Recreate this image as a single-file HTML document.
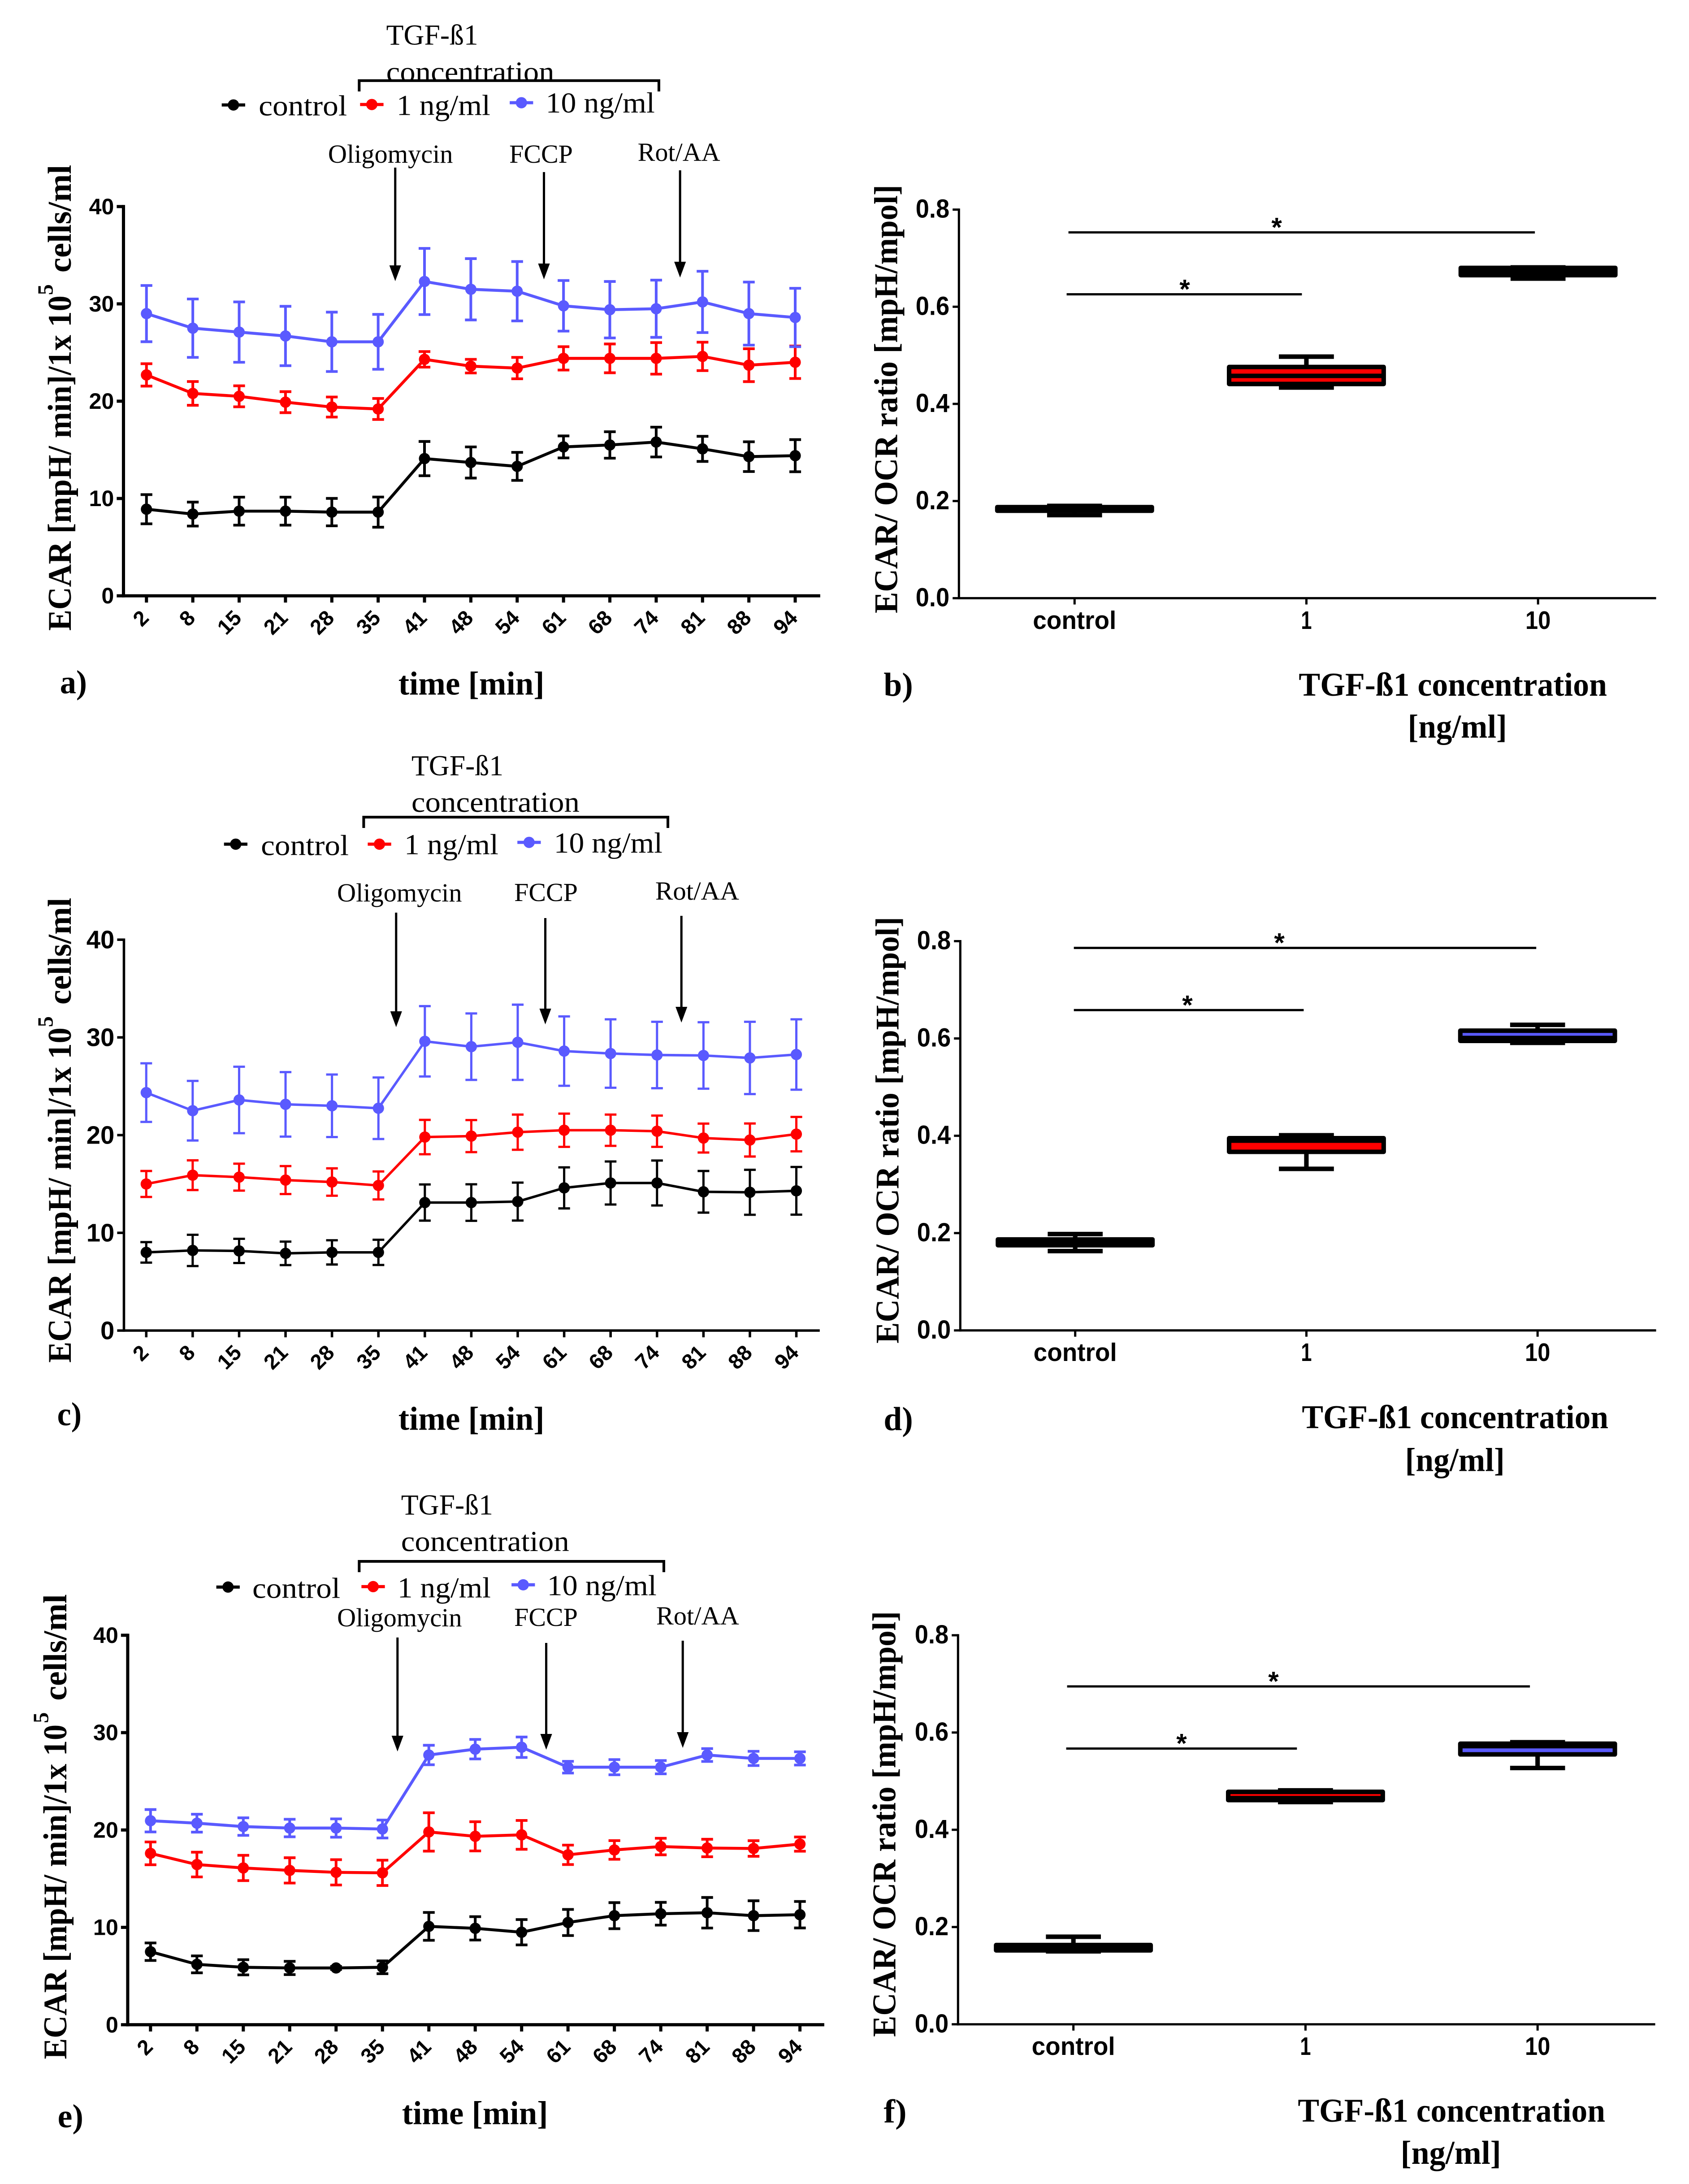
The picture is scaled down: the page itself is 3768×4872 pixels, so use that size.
<!DOCTYPE html>
<html lang="en">
<head>
<meta charset="utf-8">
<title>ECAR and ECAR/OCR ratio panels</title>
<style>
html,body{margin:0;padding:0;background:#fff;}
svg{display:block;}
</style>
</head>
<body>
<svg id="figure" xmlns="http://www.w3.org/2000/svg" width="3768" height="4872" viewBox="0 0 3768 4872"></svg>
<script>
// ---------- shared axis data ----------
var timeLabels = ['2','8','15','21','28','35','41','48','54','61','68','74','81','88','94'];
var ecarTicks = [0,10,20,30,40];
var ratioTicks = ['0.0','0.2','0.4','0.6','0.8'];
var boxCategories = ['control','1','10'];

// ---------- panel a ----------
var aControl = [8.9,8.4,8.7,8.7,8.6,8.6,14.1,13.7,13.3,15.3,15.5,15.8,15.1,14.3,14.4];
var aControlErr = [1.5,1.23,1.44,1.44,1.41,1.55,1.76,1.6,1.44,1.13,1.36,1.53,1.29,1.53,1.65];
var aLow = [22.7,20.8,20.5,19.9,19.4,19.2,24.3,23.6,23.4,24.4,24.4,24.4,24.6,23.7,24.0];
var aLowErr = [1.15,1.22,1.08,1.08,1.03,1.08,0.8,0.7,1.1,1.2,1.48,1.62,1.46,1.69,1.67];
var aHigh = [29,27.5,27.1,26.7,26.1,26.1,32.3,31.5,31.3,29.8,29.4,29.5,30.2,29,28.6];
var aHighErr = [2.89,3.0,3.1,3.05,3.05,2.82,3.4,3.15,3.05,2.6,2.9,2.94,3.15,3.24,3.0];

// ---------- panel c ----------
var cControl = [8.0,8.2,8.15,7.9,8.0,8.0,13.1,13.1,13.2,14.6,15.1,15.1,14.2,14.15,14.3];
var cControlErr = [1.05,1.6,1.24,1.2,1.24,1.29,1.85,1.87,1.94,2.1,2.2,2.3,2.13,2.3,2.44];
var cLow = [15.0,15.9,15.7,15.4,15.2,14.85,19.8,19.9,20.3,20.5,20.5,20.4,19.7,19.5,20.1];
var cLowErr = [1.33,1.52,1.38,1.43,1.4,1.43,1.76,1.64,1.8,1.7,1.6,1.6,1.48,1.69,1.76];
var cHigh = [24.35,22.5,23.6,23.15,23,22.75,29.6,29.05,29.5,28.6,28.35,28.2,28.15,27.9,28.25];
var cHighErr = [3.0,3.05,3.4,3.3,3.2,3.15,3.6,3.4,3.85,3.55,3.5,3.4,3.4,3.7,3.6];

// ---------- panel e ----------
var eControl = [7.5,6.2,5.9,5.83,5.83,5.9,10.1,9.9,9.5,10.5,11.2,11.4,11.5,11.2,11.3];
var eControlErr = [0.9,0.87,0.78,0.68,0.15,0.66,1.43,1.2,1.3,1.34,1.34,1.17,1.57,1.53,1.36];
var eLow = [17.6,16.45,16.1,15.85,15.65,15.6,19.8,19.35,19.5,17.45,17.95,18.3,18.15,18.1,18.55];
var eLowErr = [1.17,1.27,1.3,1.3,1.3,1.3,1.97,1.5,1.48,1.0,0.96,0.85,0.9,0.8,0.73];
var eHigh = [20.95,20.7,20.35,20.2,20.2,20.1,27.7,28.3,28.5,26.45,26.45,26.45,27.7,27.35,27.35];
var eHighErr = [1.15,0.92,0.9,0.9,0.94,0.92,1.0,1.0,1.05,0.6,0.78,0.68,0.66,0.73,0.68];

// ---------- box panels: [min, q1, median, q3, max] ----------
var bControlBox = [0.171,0.18,0.183,0.1875,0.19];
var bLowBox = [0.4337,0.441,0.4577,0.476,0.4973];
var bHighBox = [0.658,0.665,0.672,0.68,0.681];
var dControlBox = [0.163,0.175,0.18,0.187,0.198];
var dLowBox = [0.332,0.367,0.39,0.395,0.401];
var dHighBox = [0.591,0.595,0.601,0.616,0.628];
var fControlBox = [0.15,0.152,0.157,0.163,0.18];
var fLowBox = [0.457,0.461,0.465,0.478,0.481];
var fHighBox = [0.527,0.555,0.572,0.577,0.58];

var BLACK = '#000000', RED = '#ff0000', BLUE = '#5a5aff';
var SERIF = '"Liberation Serif", serif', SANS = '"Liberation Sans", sans-serif';
var NS = 'http://www.w3.org/2000/svg';
var root = document.getElementById('figure');

function mk(tag, attrs, name, parent) {
  var el = document.createElementNS(NS, tag);
  for (var k in attrs) { el.setAttribute(k, attrs[k]); }
  
  
  (parent || root).appendChild(el);
  return el;
}
function line(x1, y1, x2, y2, color, w, name, parent) {
  return mk('line', {x1:x1, y1:y1, x2:x2, y2:y2, stroke:color, 'stroke-width':w}, name, parent);
}
function txt(x, y, s, o, name, parent) {
  var a = {x:x, y:y, 'font-family':o.family || SERIF, 'font-size':o.size, fill:'#000'};
  if (o.bold) { a['font-weight'] = 'bold'; }
  if (o.anchor) { a['text-anchor'] = o.anchor; }
  if (o.len) { a.textLength = o.len; a.lengthAdjust = 'spacingAndGlyphs'; }
  if (o.rotate !== undefined) { a.transform = 'rotate(' + o.rotate + ' ' + x + ' ' + y + ')'; }
  var el = mk('text', a, name, parent);
  el.textContent = s;
  return el;
}
function panelTransform(ox, oy) {
  return 'translate(' + ox + ' ' + oy + ') scale(1.0054 1.005) translate(' + (-ox) + ' ' + (-oy) + ')';
}

function drawSeries(g, xs, yf, vals, errs, color, lw, label) {
  var i, pts = [];
  for (i = 0; i < vals.length; i++) {
    var top = yf(vals[i] + errs[i]), bot = yf(vals[i] - errs[i]);
    line(xs(i), top, xs(i), bot, color, lw, label + '-error-bar', g);
    line(xs(i) - 13, top, xs(i) + 13, top, color, lw, label + '-error-cap-upper', g);
    line(xs(i) - 13, bot, xs(i) + 13, bot, color, lw, label + '-error-cap-lower', g);
    pts.push(xs(i) + ',' + yf(vals[i]));
  }
  mk('polyline', {points:pts.join(' '), fill:'none', stroke:color, 'stroke-width':lw + 0.5, 'stroke-linejoin':'round'}, label + '-line', g);
  for (i = 0; i < vals.length; i++) {
    mk('circle', {cx:xs(i), cy:yf(vals[i]), r:12.5, fill:color}, label + '-point', g);
  }
}

function arrow(g, x, yStart, yTip, name) {
  line(x, yStart, x, yTip - 30, '#000', 5, name + '-shaft', g);
  mk('polygon', {points:(x-13)+','+(yTip-35)+' '+(x+13)+','+(yTip-35)+' '+x+','+yTip, fill:'#000'}, name + '-head', g);
}

function linePanel(p) {
  var g = mk('g', {transform:panelTransform(p.ox, p.oy)}, 'panel-' + p.id + '-line-chart');
  var xs = function (i) { return p.x0 + (p.x1 - p.x0) * i / (timeLabels.length - 1); };
  var yf = function (v) { return p.y0 + (p.y40 - p.y0) * v / 40; };
  var i;
  // axes
  line(p.ax, p.y40 - p.axisW / 2, p.ax, p.y0 + p.axisW / 2, '#000', p.axisW, 'y-axis', g);
  line(p.ax - p.axisW / 2, p.y0, p.axEnd, p.y0, '#000', p.axisW, 'x-axis', g);
  for (i = 0; i < ecarTicks.length; i++) {
    var ty = yf(ecarTicks[i]);
    line(p.ax - 15, ty, p.ax, ty, '#000', p.axisW, 'y-tick', g);
    txt(p.ax - 21, ty + p.tickSize * 0.34, String(ecarTicks[i]), {family:SANS, bold:true, size:p.tickSize, anchor:'end'}, 'y-tick-label', g);
  }
  for (i = 0; i < timeLabels.length; i++) {
    line(xs(i), p.y0, xs(i), p.y0 + 15, '#000', p.axisW, 'x-tick', g);
    txt(xs(i) + 8, p.y0 + 52, timeLabels[i], {family:SANS, bold:true, size:47, anchor:'end', rotate:-45}, 'x-tick-label', g);
  }
  // series
  drawSeries(g, xs, yf, p.control, p.controlErr, BLACK, p.lw, 'control-series');
  drawSeries(g, xs, yf, p.low, p.lowErr, RED, p.lw, 'series-1-ng-ml');
  drawSeries(g, xs, yf, p.high, p.highErr, BLUE, p.lw, 'series-10-ng-ml');
  // y title
  txt(p.titleX, p.t1[0], 'ECAR [mpH/ min]/1x 10', {bold:true, size:74, len:p.t1[0] - p.t1[1], rotate:-90}, 'y-axis-title', g);
  txt(p.titleX - 40, p.t5 + 14, '5', {bold:true, size:48, rotate:-90}, 'y-axis-title-superscript', g);
  txt(p.titleX, p.t2[0], 'cells/ml', {bold:true, size:74, len:p.t2[0] - p.t2[1], rotate:-90}, 'y-axis-title-units', g);
  // x title + panel letter
  txt(p.time[0], p.time[1], 'time [min]', {bold:true, size:74, len:324}, 'x-axis-title', g);
  txt(p.letter[0], p.letter[1], p.id + ')', {bold:true, size:74, len:p.letter[2]}, 'panel-label', g);
  // legend heading and bracket
  txt(p.tgf[0], p.tgf[1], 'TGF-ß1', {size:64, len:204}, 'legend-heading', g);
  txt(p.conc[0], p.conc[1], 'concentration', {size:64, len:373}, 'legend-heading-concentration', g);
  mk('polyline', {points:p.br[0]+','+(p.br[2]+24)+' '+p.br[0]+','+p.br[2]+' '+p.br[1]+','+p.br[2]+' '+p.br[1]+','+(p.br[2]+24), fill:'none', stroke:'#000', 'stroke-width':6}, 'legend-bracket', g);
  // legend entries
  var names = ['control','1 ng/ml','10 ng/ml'], cols = [BLACK, RED, BLUE];
  for (i = 0; i < 3; i++) {
    var L = p.legend[i];
    line(L[0], L[1], L[0] + 52, L[1], cols[i], 7, 'legend-line', g);
    mk('circle', {cx:L[0] + 26, cy:L[1], r:12.5, fill:cols[i]}, 'legend-marker', g);
    txt(L[2], L[3], names[i], {size:64, len:L[4]}, 'legend-entry', g);
  }
  // treatment labels + arrows
  var labels = ['Oligomycin','FCCP','Rot/AA'], arrowNames = ['oligomycin-arrow','fccp-arrow','rot-aa-arrow'];
  for (i = 0; i < 3; i++) {
    var T = p.treat[i];
    txt(T[0], T[1], labels[i], {size:58, len:T[2]}, 'treatment-label', g);
    arrow(g, T[3], T[4], T[5], arrowNames[i]);
  }
}

function boxPanel(p) {
  var g = mk('g', {transform:panelTransform(p.ox, p.oy)}, 'panel-' + p.id + '-box-plot');
  var yf = function (v) { return p.y0 + (p.y08 - p.y0) * v / 0.8; };
  var i, j;
  line(p.ax, p.y08 - 2.5, p.ax, p.y0 + 2.5, '#000', 5, 'y-axis', g);
  line(p.ax - 2.5, p.y0, p.axEnd, p.y0, '#000', 5, 'x-axis', g);
  for (i = 0; i < ratioTicks.length; i++) {
    var ty = yf(parseFloat(ratioTicks[i]));
    line(p.ax - 14, ty, p.ax, ty, '#000', 5, 'y-tick', g);
    txt(p.ax - 21, ty + 18, ratioTicks[i], {family:SANS, bold:true, size:58, anchor:'end', len:75}, 'y-tick-label', g);
  }
  var fills = ['#000', RED, BLUE];
  var catLens = [185, 24, 56];
  for (i = 0; i < boxCategories.length; i++) {
    var cx = p.cx[i], d = p.boxes[i];
    line(cx, p.y0, cx, p.y0 + 14, '#000', 5, 'x-tick', g);
    txt(cx, p.catY, boxCategories[i], {family:SANS, bold:true, size:56, anchor:'middle', len:catLens[i]}, 'x-tick-label', g);
    line(cx, yf(d[0]), cx, yf(d[4]), '#000', 10, 'box-whisker', g);
    line(cx - 61, yf(d[0]), cx + 61, yf(d[0]), '#000', 10, 'box-whisker-cap-lower', g);
    line(cx - 61, yf(d[4]), cx + 61, yf(d[4]), '#000', 10, 'box-whisker-cap-upper', g);
    mk('rect', {x:cx - 171.5, y:yf(d[3]), width:343, height:yf(d[1]) - yf(d[3]), fill:fills[i], stroke:'#000', 'stroke-width':10, 'stroke-linejoin':'round'}, 'box-' + boxCategories[i], g);
    line(cx - 171.5, yf(d[2]), cx + 171.5, yf(d[2]), '#000', 10, 'box-median', g);
  }
  for (j = 0; j < 2; j++) {
    var s = p.sig[j];
    line(s[0], s[2], s[1], s[2], '#000', 5, 'significance-line', g);
    txt(s[3], s[2] + 9, '*', {bold:true, family:SANS, size:60, anchor:'middle'}, 'significance-star', g);
  }
  txt(p.titleX, p.titleY[0], 'ECAR/ OCR ratio [mpH/mpol]', {bold:true, size:74, len:p.titleY[0] - p.titleY[1], rotate:-90}, 'y-axis-title', g);
  txt(p.letter[0], p.letter[1], p.id + ')', {bold:true, size:74, len:p.letter[2]}, 'panel-label', g);
  txt(p.xt1[0], p.xt1[1], 'TGF-ß1 concentration', {bold:true, size:74, len:p.xt1[2]}, 'x-axis-title', g);
  txt(p.xt2[0], p.xt2[1], '[ng/ml]', {bold:true, size:74, len:p.xt2[2]}, 'x-axis-title-units', g);
}

linePanel({id:'a', ox:0, oy:0, x0:325, x1:1764.5, y0:1322.5, y40:458.5, ax:274, axEnd:1820, lw:6, axisW:7, tickSize:50,
  control:aControl, controlErr:aControlErr, low:aLow, lowErr:aLowErr, high:aHigh, highErr:aHighErr,
  titleX:157, t1:[1400,656], t5:641, t2:[605,366], time:[884,1542], letter:[133,1539,60],
  tgf:[857,99], conc:[857,181], br:[797,1462,179],
  legend:[[492,233,574,256,196],[799,232,880,255,208],[1131,228,1211,250,242]],
  treat:[[728,361,277,877,372,624],[1130,361,141,1207,382,620],[1415,357,183,1509,378,616]]});

linePanel({id:'c', ox:0, oy:1650, x0:324.5, x1:1767, y0:2961.6, y40:2094, ax:275, axEnd:1819, lw:5, axisW:5.5, tickSize:56,
  control:cControl, controlErr:cControlErr, low:cLow, lowErr:cLowErr, high:cHigh, highErr:cHighErr,
  titleX:157, t1:[3033,2289], t5:2274, t2:[2238,2001], time:[884,3182], letter:[127,3172,54],
  tgf:[913,1729], conc:[913,1810], br:[807,1482,1822],
  legend:[[497,1882,579,1906,195],[816,1882,897,1904,209],[1148,1878,1229,1901,241]],
  treat:[[748,2009,277,879,2034,2288],[1141,2008,141,1210,2046,2282],[1454,2005,186,1512,2041,2278]]});

linePanel({id:'e', ox:0, oy:3270, x0:334, x1:1775, y0:4510.5, y40:3646, ax:283.4, axEnd:1829, lw:6, axisW:7, tickSize:50,
  control:eControl, controlErr:eControlErr, low:eLow, lowErr:eLowErr, high:eHigh, highErr:eHighErr,
  titleX:147, t1:[4587,3844], t5:3827, t2:[3791,3555], time:[892,4731], letter:[128,4738,57],
  tgf:[890,3378], conc:[890,3459], br:[797,1473,3482],
  legend:[[480,3539,560,3563,195],[802,3538,882,3562,207],[1135,3534,1214,3557,243]],
  treat:[[748,3626,277,882,3651,3904],[1141,3625,141,1212,3663,3900],[1456,3622,184,1515,3658,3896]]});

boxPanel({id:'b', ox:1900, oy:350, ax:2138, axEnd:3685, y0:1329.5, y08:467, cx:[2394.6,2909,3423], catY:1398,
  boxes:[bControlBox,bLowBox,bHighBox],
  sig:[[2381,3416,517.5,2843],[2377,2899,655,2639]],
  titleX:2001, titleY:[1363,412], letter:[1971,1546,65],
  xt1:[2892,1546,684], xt2:[3134,1639,220]});

boxPanel({id:'d', ox:1900, oy:2000, ax:2141, axEnd:3685, y0:2963, y08:2099, cx:[2396,2909,3422], catY:3031,
  boxes:[dControlBox,dLowBox,dHighBox],
  sig:[[2393,3419,2114,2849],[2393,2903,2252,2645]],
  titleX:2004, titleY:[2992,2045], letter:[1971,3184,65],
  xt1:[2899,3180,680], xt2:[3128,3275,221]});

boxPanel({id:'f', ox:1900, oy:3570, ax:2136, axEnd:3683, y0:4511, y08:3647.5, cx:[2392,2907,3422], catY:4579,
  boxes:[fControlBox,fLowBox,fHighBox],
  sig:[[2378,3405,3761,2836],[2376,2888,3899,2632]],
  titleX:1997, titleY:[4539,3594], letter:[1971,4729,51],
  xt1:[2890,4727,682], xt2:[3118,4821,223]});
</script>
</body>
</html>
